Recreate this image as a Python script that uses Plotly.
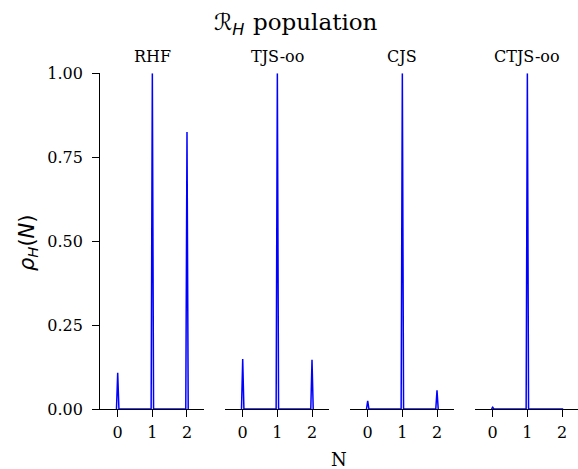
import plotly.graph_objects as go

# ---- data ----
methods = ["RHF", "TJS-oo", "CJS", "CTJS-oo"]
N_values = [0, 1, 2]
pop_RHF = [0.108, 1.0, 0.825]
pop_TJS = [0.149, 1.0, 0.147]
pop_CJS = [0.024, 1.0, 0.056]
pop_CTJS = [0.005, 1.0, 0.001]
populations = [pop_RHF, pop_TJS, pop_CJS, pop_CTJS]
y_ticks = [0.0, 0.25, 0.5, 0.75, 1.0]

W, H = 578, 469
peak_half_width = 0.035  # narrow peak (style)

fig = go.Figure()

zero_px = [117.7, 242.7, 367.7, 492.7]
unit_px = 34.65
y_bot_px, y_top_px = 409.0, 73.3
ydom = [1 - y_bot_px / H, 1 - y_top_px / H]

serif = "DejaVu Serif"
for i, (name, pops) in enumerate(zip(methods, populations)):
    xs, ys = [], []
    for n, p in zip(N_values, pops):
        xs += [n - peak_half_width, n, n + peak_half_width]
        ys += [0, p, 0]
    idx = "" if i == 0 else str(i + 1)
    fig.add_trace(go.Scatter(x=xs, y=ys, mode="lines",
                             line=dict(color="#0000ff", width=1.5),
                             xaxis="x" + idx, yaxis="y" + idx,
                             showlegend=False, hoverinfo="skip"))
    left_px = zero_px[i] - 0.5 * unit_px
    right_px = zero_px[i] + 2.5 * unit_px
    xr_right = 2.5
    if right_px > W:
        right_px = W
        xr_right = (W - zero_px[i]) / unit_px
    xa = dict(domain=[left_px / W, right_px / W], range=[-0.5, xr_right],
              showline=True, linecolor="black", linewidth=1.4,
              ticks="outside", ticklen=7, tickwidth=1.4, tickcolor="black",
              tickvals=N_values, ticktext=[str(n) for n in N_values],
              tickfont=dict(family=serif, size=16, color="black"),
              ticklabelstandoff=2,
              showgrid=False, zeroline=False, layer="above traces",
              anchor="y" + idx, fixedrange=True, automargin=False)
    ya = dict(domain=ydom, range=[0, 1.0], showgrid=False, zeroline=False,
              anchor="x" + idx, fixedrange=True, automargin=False)
    if i == 0:
        ya.update(showline=True, linecolor="black", linewidth=1.4,
                  ticks="outside", ticklen=7, tickwidth=1.4, tickcolor="black",
                  tickvals=y_ticks, ticktext=[f"{v:.2f}" for v in y_ticks],
                  tickfont=dict(family=serif, size=16, color="black"),
                  ticklabelstandoff=6,
                  layer="above traces")
    else:
        ya.update(showline=False, showticklabels=False, ticks="")
    fig.layout["xaxis" + idx] = xa
    fig.layout["yaxis" + idx] = ya
    fig.add_annotation(x=(left_px + zero_px[i] + 2.5 * unit_px) / 2 / W, y=1 - 57 / H,
                       xref="paper", yref="paper", text=name, showarrow=False,
                       font=dict(family=serif, size=16, color="black"),
                       xanchor="center", yanchor="middle")

# title: script R with subscript, then serif word
fig.add_annotation(x=246 / W, y=1 - 24 / H, xref="paper", yref="paper",
                   text="ℛ<sub><i>H</i></sub>", showarrow=False,
                   font=dict(family="DejaVu Sans", size=23, color="black"),
                   xanchor="right", yanchor="middle")
fig.add_annotation(x=251 / W, y=1 - 22 / H, xref="paper", yref="paper",
                   text="population", showarrow=False,
                   font=dict(family=serif, size=23, color="black"),
                   xanchor="left", yanchor="middle")
fig.add_annotation(x=28 / W, y=1 - 243 / H, xref="paper", yref="paper",
                   text="<i>ρ</i><sub><i>H</i></sub>(<i>N</i>)", showarrow=False,
                   textangle=-90,
                   font=dict(family="DejaVu Sans", size=21, color="black"),
                   xanchor="center", yanchor="middle")
fig.add_annotation(x=339 / W, y=1 - 459 / H, xref="paper", yref="paper",
                   text="N", showarrow=False,
                   font=dict(family=serif, size=18, color="black"),
                   xanchor="center", yanchor="middle")

fig.update_layout(width=W, height=H, margin=dict(l=0, r=0, t=0, b=0),
                  paper_bgcolor="white", plot_bgcolor="white")

fig.write_html("out.html")
